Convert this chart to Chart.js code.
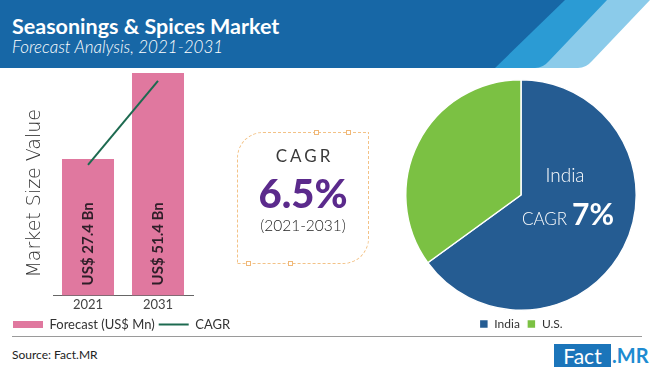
<!DOCTYPE html>
<html><head><meta charset="utf-8">
<script src="https://cdn.jsdelivr.net/npm/chart.js@4.4.1/dist/chart.umd.min.js"></script>
<style>
html,body{margin:0;padding:0;background:#fff;width:650px;height:372px;overflow:hidden;}
#root{position:relative;width:650px;height:372px;font-family:Lato,'Open Sans',sans-serif;}
.abs{position:absolute;}
#hdr{left:0;top:0;}
#title{left:12px;top:13px;font-size:21.5px;font-weight:700;color:#fff;line-height:26px;white-space:nowrap;}
#subtitle{left:12px;top:37px;font-size:17px;font-style:italic;font-weight:300;color:#fff;line-height:20px;white-space:nowrap;}
#barWrap{left:0;top:68px;}
#pieWrap{left:395px;top:77px;}
#box{left:237px;top:132px;width:132px;height:132px;border:1px dashed #f3c286;border-radius:26px 0 26px 0;box-sizing:border-box;}
.sq{width:5px;height:5px;border:1px solid #f0b878;background:#fff;box-sizing:border-box;}
.ctr{left:237px;width:132px;text-align:center;white-space:nowrap;}
#cagrLbl{top:145px;font-size:17px;letter-spacing:3px;padding-left:3px;box-sizing:border-box;color:#3a3a3a;line-height:22px;}
#cagrVal{top:169px;font-size:40px;font-weight:900;color:#5b2a8c;line-height:48px;}
#cagrYears{top:215px;font-size:15.5px;font-weight:300;color:#222;line-height:20px;}
#sep{left:12px;top:336px;width:630px;height:1px;background:#9a9a9a;}
#source{left:12px;top:347px;font-size:12px;color:#222;line-height:16px;}
#logoBox{left:554px;top:344px;width:57px;height:23px;background:#1b75ba;color:#fff;font-size:21px;line-height:23px;text-align:center;}
#logoMR{left:612px;top:344px;font-size:20px;font-weight:700;color:#1d8bd1;line-height:23px;}
</style></head>
<body>
<div id="root">
  <svg id="hdr" class="abs" width="650" height="68" viewBox="0 0 650 68">
    <path d="M600,0 L650,0 L592,61 Q586,68 578,68 L530,68 Z" fill="#8bcbea"/>
    <path d="M560,0 L607,0 L549,61 Q543,68 535,68 L490,68 Z" fill="#2b9bd4"/>
    <path d="M0,0 L565,0 L495,68 L0,68 Z" fill="#1767a6"/>
  </svg>
  <div id="title" class="abs">Seasonings &amp; Spices Market</div>
  <div id="subtitle" class="abs">Forecast Analysis, 2021-2031</div>

  <div id="barWrap" class="abs"><canvas id="bar" width="320" height="273"></canvas></div>
  <div id="pieWrap" class="abs"><canvas id="pie" width="252" height="263"></canvas></div>

  <div id="box" class="abs"></div>
  <div class="abs sq" style="left:314px;top:130px"></div>
  <div class="abs sq" style="left:346px;top:130px"></div>
  <div class="abs sq" style="left:246px;top:261px"></div>
  <div class="abs sq" style="left:288px;top:261px"></div>
  <div id="cagrLbl" class="abs ctr">CAGR</div>
  <div id="cagrVal" class="abs ctr">6.5%</div>
  <div id="cagrYears" class="abs ctr">(2021-2031)</div>

  <div id="sep" class="abs"></div>
  <div id="source" class="abs">Source: Fact.MR</div>
  <div id="logoBox" class="abs">Fact</div>
  <div id="logoMR" class="abs">.MR</div>
</div>
<script>
// ---- data ----
const years = ['2021', '2031'];
const forecastValues = [27.4, 51.4];
const forecastLabels = ['US$ 27.4 Bn', 'US$ 51.4 Bn'];
const cagrTrend = [25.8, 49.2];
const regions = ['India', 'U.S.'];
const regionShares = [65, 35];
const indiaCagr = '7%';

Chart.defaults.font.family = 'Lato, "Open Sans", sans-serif';

const barLabelPlugin = {
  id: 'barLabels',
  afterDatasetsDraw(chart) {
    const meta = chart.getDatasetMeta(1);
    const ctx = chart.ctx;
    ctx.save();
    ctx.font = 'bold 15px Lato';
    ctx.fillStyle = '#2e1e28';
    ctx.textAlign = 'left';
    ctx.textBaseline = 'middle';
    meta.data.forEach((el, i) => {
      ctx.save();
      ctx.translate(el.x, el.base - 10);
      ctx.rotate(-Math.PI / 2);
      ctx.fillText(forecastLabels[i], 0, 0);
      ctx.restore();
    });
    ctx.restore();
  }
};

new Chart(document.getElementById('bar'), {
  type: 'bar',
  data: {
    labels: years,
    datasets: [
      { type: 'line', label: 'CAGR', data: cagrTrend, borderColor: '#1d6a50', backgroundColor: '#1d6a50',
        borderWidth: 2, pointRadius: 0, pointBorderWidth: 2, pointBorderColor: '#1d6a50', tension: 0 },
      { type: 'bar', label: 'Forecast (US$ Mn)', data: forecastValues, backgroundColor: '#e0789f',
        base: -10.6, barPercentage: 0.743, categoryPercentage: 1, borderWidth: 0 }
    ]
  },
  options: {
    responsive: false, animation: false, devicePixelRatio: 1,
    layout: { padding: { top: 5, left: 9, right: 0, bottom: 0 } },
    plugins: {
      legend: {
        position: 'bottom', align: 'start', reverse: true,
        labels: {
          usePointStyle: true, pointStyleWidth: 30, boxHeight: 7, padding: 4, color: '#333', font: { size: 13 },
          generateLabels(chart) {
            const items = Chart.defaults.plugins.legend.labels.generateLabels(chart);
            items.forEach(it => {
              const ds = chart.data.datasets[it.datasetIndex];
              if (ds.type === 'line') { it.pointStyle = 'line'; it.lineWidth = 2; it.strokeStyle = ds.borderColor; }
              else { it.pointStyle = 'rect'; it.lineWidth = 0; it.fillStyle = ds.backgroundColor; }
            });
            return items;
          }
        }
      },
      tooltip: { enabled: false }
    },
    scales: {
      x: { grid: { display: false, drawTicks: false }, border: { display: true, color: '#666', width: 1 },
           ticks: { padding: 8, color: '#444', font: { size: 13, lineHeight: 0.2 } } },
      y: { min: -10.6, max: 51.4, grid: { display: false, drawTicks: false }, border: { display: false },
           ticks: { display: false },
           title: { display: true, text: 'Market Size Value   ', color: '#333',
                    font: { family: '"DejaVu Sans"', size: 19, weight: 200 }, padding: { top: 14.6, bottom: 7.8 } },
           afterFit(scale) { scale.width = 44; } },
      yRight: { axis: 'y', position: 'right', display: true, grid: { display: false, drawTicks: false },
                border: { display: false }, ticks: { display: false },
                afterFit(scale) { scale.width = 127; } }
    }
  },
  plugins: [barLabelPlugin]
});

const pieLabelPlugin = {
  id: 'pieLabels',
  afterDatasetsDraw(chart) {
    const arc = chart.getDatasetMeta(0).data[0];
    const cx = arc.x, cy = arc.y;
    const ctx = chart.ctx;
    ctx.save();
    ctx.fillStyle = '#ffffff';
    ctx.textBaseline = 'alphabetic';
    ctx.textAlign = 'center';
    ctx.font = '300 19px Lato';
    ctx.fillText(regions[0], cx + 44, cy - 13);
    ctx.textAlign = 'left';
    ctx.font = '300 17px Lato';
    ctx.fillText('CAGR', cx + 1, cy + 30);
    ctx.font = 'bold 30px Lato';
    ctx.fillText(indiaCagr, cx + 51, cy + 30);
    ctx.restore();
  }
};

new Chart(document.getElementById('pie'), {
  type: 'pie',
  data: {
    labels: regions,
    datasets: [{ data: regionShares, backgroundColor: ['#255c92', '#7bc143'], borderColor: '#ffffff', borderWidth: 1.5 }]
  },
  options: {
    responsive: false, animation: false, devicePixelRatio: 1,
    layout: { padding: { top: 2, left: 10, right: 10, bottom: 0 } },
    plugins: {
      legend: { position: 'bottom', labels: { boxWidth: 9, boxHeight: 9, padding: 7, color: '#333', font: { size: 12 } } },
      tooltip: { enabled: false }
    }
  },
  plugins: [pieLabelPlugin]
});
</script>
</body></html>
